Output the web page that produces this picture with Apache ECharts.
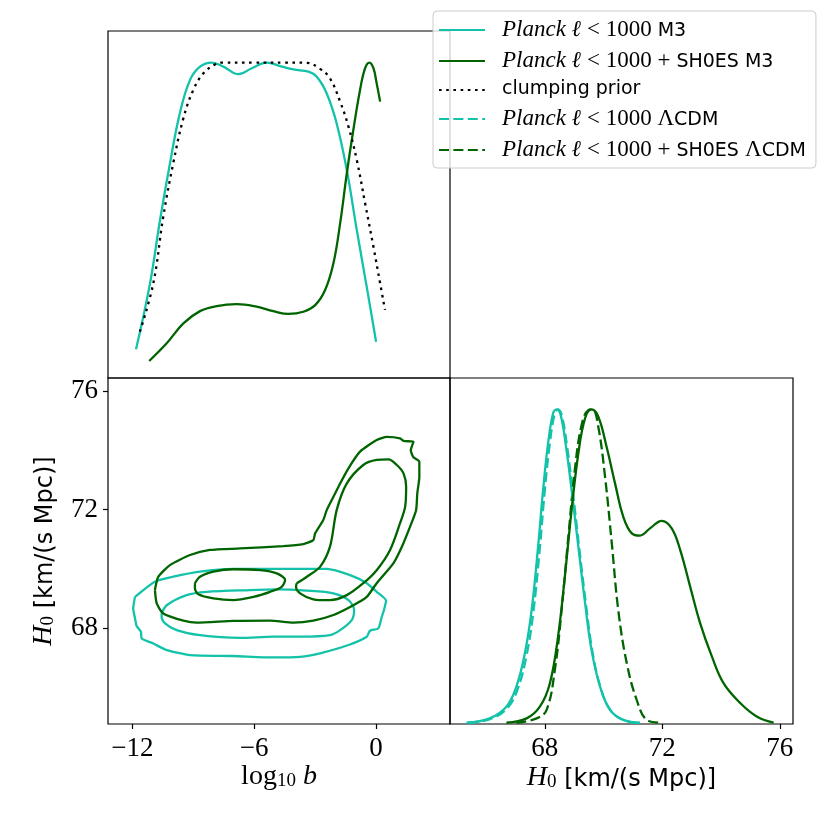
<!DOCTYPE html>
<html><head><meta charset="utf-8">
<script src="https://cdn.jsdelivr.net/npm/echarts@6/dist/echarts.min.js"></script>
<style>html,body{margin:0;padding:0;background:#fff}#c{width:830px;height:830px}</style>
</head><body><div id="c"></div>
<script>
const TEAL = '#12c2a9', GREEN = '#006400';
const logbTicks = [-12, -6, 0];
const h0Ticks = [68, 72, 76];
const names = [
  'Planck l<1000 M3',
  'Planck l<1000 + SH0ES M3',
  'clumping prior',
  'Planck l<1000 LCDM',
  'Planck l<1000 + SH0ES LCDM'
];
const legendRich = {
  'Planck l<1000 M3': '{it|Planck ℓ}{r| < 1000}{s| M3}',
  'Planck l<1000 + SH0ES M3': '{it|Planck ℓ}{r| < 1000 +}{s| SH0ES M3}',
  'clumping prior': '{s|clumping prior}',
  'Planck l<1000 LCDM': '{it|Planck ℓ}{r| < 1000 Λ}{s|CDM}',
  'Planck l<1000 + SH0ES LCDM': '{it|Planck ℓ}{r| < 1000 +}{s| SH0ES }{r|Λ}{s|CDM}'
};

// 1D marginal of log10 b (normalised to peak 1)
const logbPlanckM3 = [[-11.82,0.091],[-11.13,0.30],[-10.64,0.50],[-10.15,0.68],[-9.66,0.84],[-9.16,0.945],[-8.67,0.987],[-8.1,1.0],[-7.52,0.987],[-6.78,0.963],[-6.12,0.982],[-5.38,1.0],[-4.73,0.989],[-4.07,0.978],[-3.33,0.971],[-2.92,0.955],[-2.43,0.902],[-1.94,0.807],[-1.44,0.659],[-0.95,0.469],[-0.46,0.289],[0.0,0.115]];
const logbShoesM3 = [[-11.17,0.054],[-10.31,0.11],[-9.49,0.173],[-8.67,0.212],[-7.85,0.228],[-6.86,0.234],[-5.88,0.226],[-5.06,0.212],[-4.32,0.203],[-3.58,0.21],[-3.0,0.231],[-2.51,0.279],[-2.1,0.364],[-1.77,0.49],[-1.44,0.649],[-1.12,0.786],[-0.79,0.913],[-0.54,0.982],[-0.33,1.0],[-0.13,0.982],[0.03,0.934],[0.2,0.876]];
const logbPrior = [[-11.63,0.147],[-10.97,0.30],[-10.48,0.511],[-9.99,0.68],[-9.49,0.823],[-9.0,0.913],[-8.5,0.966],[-7.93,0.994],[-7.52,1.0],[-6.0,1.0],[-4.5,1.0],[-3.41,0.999],[-2.76,0.98],[-2.27,0.95],[-1.77,0.876],[-1.36,0.797],[-0.95,0.691],[-0.54,0.554],[-0.13,0.416],[0.2,0.30],[0.44,0.216]];

// 1D marginal of H0
const h0PlanckM3 = [[65.33,0.004],[66.12,0.018],[66.69,0.055],[67.03,0.119],[67.32,0.225],[67.55,0.362],[67.77,0.564],[67.94,0.744],[68.11,0.892],[68.28,0.988],[68.4,1.0],[68.54,0.982],[68.72,0.882],[68.91,0.744],[69.14,0.564],[69.37,0.384],[69.59,0.235],[69.88,0.119],[70.22,0.045],[70.67,0.013],[71.24,0.004]];
const h0PlanckLCDM = [[65.4,0.004],[66.15,0.016],[66.72,0.05],[67.07,0.11],[67.37,0.215],[67.6,0.35],[67.82,0.55],[67.99,0.735],[68.16,0.885],[68.33,0.985],[68.45,1.0],[68.58,0.98],[68.76,0.88],[68.95,0.74],[69.17,0.56],[69.4,0.38],[69.62,0.23],[69.9,0.115],[70.24,0.043],[70.7,0.012],[71.3,0.003]];
const h0ShoesM3 = [[66.69,0.004],[67.38,0.018],[67.83,0.055],[68.17,0.129],[68.45,0.278],[68.68,0.468],[68.91,0.68],[69.14,0.86],[69.37,0.972],[69.59,1.0],[69.82,0.977],[70.1,0.882],[70.39,0.765],[70.67,0.659],[70.96,0.606],[71.24,0.599],[71.58,0.622],[71.98,0.646],[72.32,0.622],[72.61,0.553],[72.95,0.436],[73.29,0.32],[73.69,0.214],[74.09,0.129],[74.66,0.066],[75.23,0.023],[75.79,0.004]];
const h0ShoesLCDM = [[67.03,0.004],[67.72,0.018],[68.06,0.045],[68.34,0.172],[68.57,0.362],[68.8,0.595],[69.02,0.807],[69.25,0.95],[69.48,0.998],[69.63,1.0],[69.82,0.945],[70.05,0.786],[70.28,0.574],[70.5,0.362],[70.79,0.193],[71.13,0.076],[71.47,0.013],[71.92,0.004]];

// 2D contours (log10 b, H0)
const contPlanck95 = [[-11.87,69.06],[-10.89,69.57],[-9.98,69.74],[-8.67,69.91],[-7.03,70.0],[-4.89,70.0],[-2.43,70.0],[-1.28,69.79],[-0.46,69.52],[0.03,69.23],[0.49,68.93],[0.39,68.62],[0.28,68.39],[0.11,68.0],[-0.30,67.92],[-0.46,67.72],[-1.36,67.44],[-2.76,67.16],[-3.74,67.04],[-5.06,67.02],[-7.03,67.07],[-9.16,67.1],[-10.31,67.27],[-10.97,67.49],[-11.54,67.66],[-11.58,67.89],[-11.79,68.08],[-11.87,68.34],[-11.96,68.67]];
const contPlanck68 = [[-10.56,68.5],[-10.31,68.78],[-9.33,69.12],[-8.34,69.23],[-6.21,69.29],[-4.89,69.31],[-3.41,69.27],[-2.1,69.18],[-1.36,68.95],[-1.08,68.62],[-1.2,68.28],[-1.77,67.94],[-2.27,67.77],[-3.74,67.72],[-5.06,67.72],[-6.7,67.68],[-8.67,67.77],[-9.82,67.94],[-10.39,68.17],[-10.56,68.39]];
const contShoes95 = [[-10.89,69.29],[-10.72,69.74],[-10.15,70.13],[-9.16,70.47],[-8.18,70.64],[-6.7,70.69],[-4.57,70.77],[-3.58,70.84],[-3.09,70.97],[-3.0,71.2],[-2.6,71.65],[-2.43,71.98],[-2.1,72.43],[-1.77,72.88],[-1.36,73.39],[-0.79,73.95],[0.03,74.34],[0.53,74.45],[1.18,74.4],[1.35,74.31],[1.84,74.28],[1.71,74.0],[1.84,73.76],[2.13,73.61],[2.13,73.1],[2.03,72.55],[1.97,71.98],[1.67,71.42],[1.27,70.75],[0.85,70.19],[0.03,69.52],[-0.46,69.06],[-1.12,68.78],[-2.1,68.45],[-3.09,68.26],[-4.07,68.19],[-5.22,68.26],[-7.03,68.25],[-8.83,68.19],[-9.49,68.26],[-10.48,68.5],[-10.8,68.84]];
const contShoes68a = [[-8.92,69.52],[-8.67,69.74],[-8.01,69.91],[-7.03,69.99],[-5.71,69.96],[-4.89,69.85],[-4.48,69.63],[-4.65,69.4],[-5.22,69.23],[-6.04,69.06],[-7.03,68.95],[-8.01,69.01],[-8.75,69.15],[-8.92,69.35]];
const contShoes68b = [[-3.91,69.52],[-3.41,69.74],[-2.76,70.07],[-2.27,70.75],[-1.94,71.98],[-1.44,72.88],[-0.63,73.5],[0.03,73.67],[0.61,73.69],[1.02,73.5],[1.35,73.22],[1.48,72.77],[1.43,72.09],[1.18,71.54],[0.69,70.64],[0.03,69.96],[-0.63,69.52],[-1.44,69.12],[-2.27,68.95],[-3.09,68.98],[-3.74,69.18],[-3.94,69.4]];

const SERIF = 'Liberation Serif', SANS = 'DejaVu Sans';
const closed = a => a.concat([a[0]]);
const minus = v => (v < 0 ? '\u2212' + Math.abs(v) : '' + v);
const LW = 2.3, DASH = [10, 4.4], DOT = [2.6, 4.6];

function line(name, data, idx, color, type, smooth) {
  return {
    type: 'line', name: name, data: data, xAxisIndex: idx, yAxisIndex: idx,
    symbol: 'none', showSymbol: false, smooth: smooth, animation: false,
    lineStyle: { color: color, width: LW, type: type },
    itemStyle: { color: color }, z: 3
  };
}

const hidden = { show: false };
const noLine = { show: false, onZero: false };
const tickStyle = vals => ({ show: true, inside: false, length: 5, customValues: vals, lineStyle: { color: '#000', width: 1.2 } });
const h0NameRich = {
  it: { fontFamily: SERIF, fontStyle: 'italic', fontSize: 28, color: '#000', lineHeight: 30, verticalAlign: 'bottom' },
  sub: { fontFamily: SERIF, fontSize: 19, color: '#000', lineHeight: 8, verticalAlign: 'bottom' },
  s: { fontFamily: SANS, fontSize: 24, color: '#000', lineHeight: 24, verticalAlign: 'bottom' }
};
const option = {
  animation: false,
  backgroundColor: '#fff',
  grid: [
    { left: 108, top: 31, width: 342, height: 347, show: true, borderColor: '#000', borderWidth: 1.2, backgroundColor: 'transparent' },
    { left: 108, top: 378, width: 342, height: 346, show: true, borderColor: '#000', borderWidth: 1.2, backgroundColor: 'transparent' },
    { left: 450, top: 378, width: 343, height: 346, show: true, borderColor: '#000', borderWidth: 1.2, backgroundColor: 'transparent' }
  ],
  xAxis: [
    { type: 'value', gridIndex: 0, min: -13.2, max: 3.64, axisLine: noLine, axisTick: hidden, axisLabel: hidden, splitLine: hidden },
    { type: 'value', gridIndex: 1, min: -13.2, max: 3.64, axisLine: noLine, splitLine: hidden,
      axisTick: tickStyle(logbTicks),
      axisLabel: { show: true, customValues: logbTicks, formatter: minus, margin: 11, color: '#000', fontFamily: SERIF, fontSize: 27 },
      name: '{r|log}{sub|10}{it| b}', nameLocation: 'middle', nameGap: 37,
      nameTextStyle: { rich: {
        r: { fontFamily: SERIF, fontSize: 28, color: '#000', lineHeight: 30, verticalAlign: 'bottom' },
        sub: { fontFamily: SERIF, fontSize: 19, color: '#000', lineHeight: 8, verticalAlign: 'bottom' },
        it: { fontFamily: SERIF, fontStyle: 'italic', fontSize: 28, color: '#000', lineHeight: 30, verticalAlign: 'bottom' }
      } } },
    { type: 'value', gridIndex: 2, min: 64.77, max: 76.45, axisLine: noLine, splitLine: hidden,
      axisTick: tickStyle(h0Ticks),
      axisLabel: { show: true, customValues: h0Ticks, margin: 11, color: '#000', fontFamily: SERIF, fontSize: 27 },
      name: '{it|H}{sub|0}{s| [km/(s Mpc)]}', nameLocation: 'middle', nameGap: 38,
      nameTextStyle: { rich: h0NameRich } }
  ],
  yAxis: [
    { type: 'value', gridIndex: 0, min: 0, max: 1.1, axisLine: noLine, axisTick: hidden, axisLabel: hidden, splitLine: hidden },
    { type: 'value', gridIndex: 1, min: 64.78, max: 76.43, axisLine: noLine, splitLine: hidden,
      axisTick: tickStyle(h0Ticks),
      axisLabel: { show: true, customValues: h0Ticks, margin: 10, color: '#000', fontFamily: SERIF, fontSize: 27 },
      name: '{it|H}{sub|0}{s| [km/(s Mpc)]}', nameLocation: 'middle', nameGap: 50,
      nameTextStyle: { rich: h0NameRich } },
    { type: 'value', gridIndex: 2, min: 0, max: 1.1, axisLine: noLine, axisTick: hidden, axisLabel: hidden, splitLine: hidden }
  ],
  legend: {
    data: names, orient: 'vertical', left: 433, top: 11,
    itemWidth: 46, itemHeight: 14, itemGap: 8,
    padding: [7, 10, 7, 5],
    backgroundColor: 'rgba(255,255,255,0.8)', borderColor: '#cccccc', borderWidth: 1, borderRadius: 4,
    formatter: n => legendRich[n],
    selectedMode: false,
    itemStyle: { opacity: 0, color: 'rgba(0,0,0,0)', borderWidth: 0 },
    lineStyle: { width: 2 },
    textStyle: { color: '#000', padding: [0, 0, 0, 12], rich: {
      it: { fontFamily: SERIF, fontStyle: 'italic', fontSize: 23, color: '#000', lineHeight: 22, verticalAlign: 'bottom' },
      r: { fontFamily: SERIF, fontSize: 23, color: '#000', lineHeight: 22, verticalAlign: 'bottom' },
      s: { fontFamily: SANS, fontSize: 19, color: '#000', lineHeight: 18, verticalAlign: 'bottom' }
    } },
    z: 10
  },
  series: [
    line(names[0], logbPlanckM3, 0, TEAL, 'solid', 0.4),
    line(names[1], logbShoesM3, 0, GREEN, 'solid', 0.4),
    line(names[2], logbPrior, 0, '#000', DOT, 0.4),
    line(names[3], h0PlanckLCDM, 2, TEAL, DASH, 0.4),
    line(names[4], h0ShoesLCDM, 2, GREEN, DASH, 0.4),
    line(names[0], h0PlanckM3, 2, TEAL, 'solid', 0.4),
    line(names[1], h0ShoesM3, 2, GREEN, 'solid', 0.4),
    line(names[0], closed(contPlanck95), 1, TEAL, 'solid', 0.2),
    line(names[0], closed(contPlanck68), 1, TEAL, 'solid', 0.3),
    line(names[1], closed(contShoes95), 1, GREEN, 'solid', 0.2),
    line(names[1], closed(contShoes68a), 1, GREEN, 'solid', 0.3),
    line(names[1], closed(contShoes68b), 1, GREEN, 'solid', 0.3)
  ]
};
const chart = echarts.init(document.getElementById('c'), null, { renderer: 'canvas' });
chart.setOption(option);
</script></body></html>
